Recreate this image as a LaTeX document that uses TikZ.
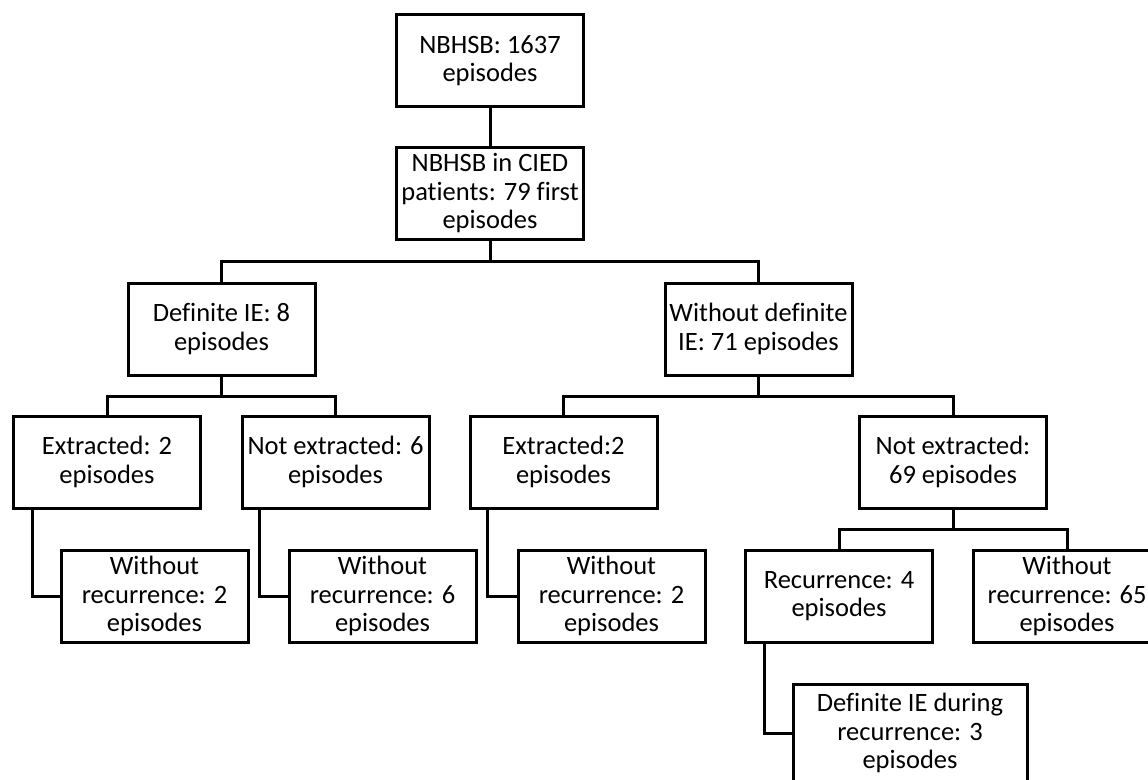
\documentclass[tikz,border=0pt]{standalone}
\usepackage{fontspec}
\setmainfont[Ligatures=NoCommon]{Carlito}
\begin{document}
\begin{tikzpicture}[x=1pt, y=-1pt,
    box/.style={draw, line width=3pt, minimum width=187pt, minimum height=92pt, align=center, inner sep=1pt, font=\fontsize{26.5}{28.5}\selectfont},
    link/.style={line width=3pt}]
        \useasboundingbox (0,0) rectangle (1148,779);

        \node[box] (all) at (490,60.5) {NBHSB: 1637\\episodes};
        \node[box] (cied) at (490,193.5) {NBHSB in CIED\\patients: 79 first\\episodes};
        \node[box] (defie) at (221.5,329) {Definite IE: 8\\episodes};
        \node[box] (nodefie) at (758.5,329) {Without definite\\IE: 71 episodes};
        \node[box] (extA) at (107,462) {Extracted: 2\\episodes};
        \node[box] (notextA) at (335.5,462) {Not extracted: 6\\episodes};
        \node[box] (extB) at (563.5,462) {Extracted:2\\episodes};
        \node[box] (notextB) at (953,462) {Not extracted:\\69 episodes};
        \node[box] (norecA) at (154.5,596) {Without\\recurrence: 2\\episodes};
        \node[box] (norecB) at (382.5,596) {Without\\recurrence: 6\\episodes};
        \node[box] (norecC) at (611.5,596) {Without\\recurrence: 2\\episodes};
        \node[box] (rec) at (839,596) {Recurrence: 4\\episodes};
        \node[box] (norecD) at (1067,596) {Without\\recurrence: 65\\episodes};
        \node[box, minimum width=234pt, minimum height=98pt] (recie) at (910,733) {Definite IE during\\recurrence: 3\\episodes};

        \draw[link] (all) -- (cied);
        \draw[link] (cied.south) -- ++(0,20.5) -| (defie);
        \draw[link] (cied.south) -- ++(0,20.5) -| (nodefie);
        \draw[link] (defie.south) -- ++(0,20) -| (extA);
        \draw[link] (defie.south) -- ++(0,20) -| (notextA);
        \draw[link] (nodefie.south) -- ++(0,20) -| (extB);
        \draw[link] (nodefie.south) -- ++(0,20) -| (notextB);
        \draw[link] (notextB.south) -- ++(0,20) -| (rec);
        \draw[link] (notextB.south) -- ++(0,20) -| (norecD);
        \draw[link] ([xshift=20pt]extA.south west) |- (norecA);
        \draw[link] ([xshift=19pt]notextA.south west) |- (norecB);
        \draw[link] ([xshift=19pt]extB.south west) |- (norecC);
        \draw[link] ([xshift=20pt]rec.south west) |- (recie);
    \end{tikzpicture}
\end{document}
